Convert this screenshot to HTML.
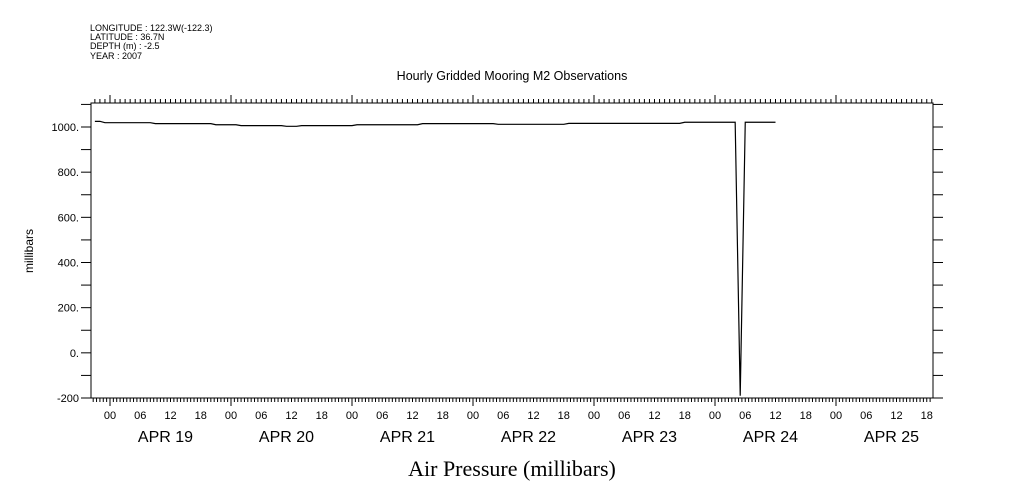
<!DOCTYPE html>
<html><head><meta charset="utf-8"><style>
html,body{margin:0;padding:0;background:#fff;}
svg{display:block;font-family:"Liberation Sans",sans-serif;}
</style></head><body>
<svg id="chart" width="1009" height="504" viewBox="0 0 1009 504">
<g font-size="9" fill="#000">
<text x="90" y="31">LONGITUDE : 122.3W(-122.3)</text>
<text x="90" y="40">LATITUDE : 36.7N</text>
<text x="90" y="49">DEPTH (m) : -2.5</text>
<text x="90" y="59">YEAR : 2007</text>
</g>
<text x="512" y="80" text-anchor="middle" font-size="12.5">Hourly Gridded Mooring M2 Observations</text>
<text transform="translate(33,251) rotate(-90)" text-anchor="middle" font-size="12">millibars</text>
<text x="512" y="476" text-anchor="middle" font-size="22" font-family="Liberation Serif, serif">Air Pressure (millibars)</text>
<rect x="91" y="103" width="842" height="295" fill="none" stroke="#000" stroke-width="1"/>
<g id="ticks"></g>
<g id="labels"></g>
<path id="series" fill="none" stroke="#000" stroke-width="1.2"/>
</svg>
<script>
const startHour = -3;
const pressure = [1025,1025,
1019,1019,1019,1019,1019,1019,1019,1019,1019,1019,
1015,1015,1015,1015,1015,1015,1015,1015,1015,1015,1015,1015,
1010,1010,1010,1010,1010,
1006,1006,1006,1006,1006,1006,1006,1006,1006,
1003,1003,1003,
1006,1006,1006,1006,1006,1006,1006,1006,1006,1006,1006,
1010,1010,1010,1010,1010,1010,1010,1010,1010,1010,1010,1010,1010,
1015,1015,1015,1015,1015,1015,1015,1015,1015,1015,1015,1015,1015,1015,1015,
1012,1012,1012,1012,1012,1012,1012,1012,1012,1012,1012,1012,1012,1012,
1016,1016,1016,1016,1016,1016,1016,1016,1016,1016,1016,1016,1016,1016,1016,1016,1016,1016,1016,1016,1016,1016,1016,
1021,1021,1021,1021,1021,1021,1021,1021,1021,1021,1021,
-190,
1021,1021,1021,1021,1021,1021,1021];
const dayLabels = ["APR 19","APR 20","APR 21","APR 22","APR 23","APR 24","APR 25"];
const hourLabels = ["00","06","12","18"];
const yTicks = [1000,800,600,400,200,0,-200];
const yTickLabels = ["1000.","800.","600.","400.","200.","0.","-200"];

const L=91,R=933,T=103,B=398;
const x0=110, pxPerHour=121/24;
function xs(h){return x0+h*pxPerHour;}
function ys(v){return 127+(1000-v)*(271/1200);}
const NS="http://www.w3.org/2000/svg";
const tg=document.getElementById('ticks'), lg=document.getElementById('labels');
function line(x1,y1,x2,y2,name){const l=document.createElementNS(NS,'line');l.setAttribute('x1',x1);l.setAttribute('y1',y1);l.setAttribute('x2',x2);l.setAttribute('y2',y2);l.setAttribute('stroke','#000');l.setAttribute('stroke-width','1');


tg.appendChild(l);}
function text(x,y,s,size,anchor,name){const t=document.createElementNS(NS,'text');t.setAttribute('x',x);t.setAttribute('y',y);t.setAttribute('font-size',size);t.setAttribute('text-anchor',anchor);t.textContent=s;


lg.appendChild(t);}
for(let h=-3;h<=164;h++){const x=xs(h);if(x<L||x>R)continue;const major=(h%24===0);line(x,T,x,T-(major?8:4),'top-tick');}
for(let k=-6;k<=246;k++){const h=k*2/3;const x=xs(h);if(x<L||x>R)continue;const major=(k%36===0);line(x,B,x,B+(major?8:4),'bottom-tick');}
for(let v=-200;v<=1100;v+=100){const y=ys(v);if(y<T)continue;line(L-10,y,L,y,'y-tick-left');line(R,y,R+10,y,'y-tick-right');}
yTicks.forEach((v,i)=>text(L-12,ys(v)+4,yTickLabels[i],11,'end','y-tick-label'));
for(let d=0;d<dayLabels.length;d++){
  hourLabels.forEach((hl,j)=>{const h=d*24+j*6;text(xs(h),419,hl,11,'middle','x-hour-label');});
  text(xs(d*24+12)-5,442,dayLabels[d],16,'middle','x-day-label');
}
let dstr='';pressure.forEach((v,i)=>{const h=startHour+i;dstr+=(i?'L':'M')+xs(h).toFixed(2)+' '+ys(v).toFixed(2)+' ';});
document.getElementById('series').setAttribute('d',dstr);
</script>
</body></html>
